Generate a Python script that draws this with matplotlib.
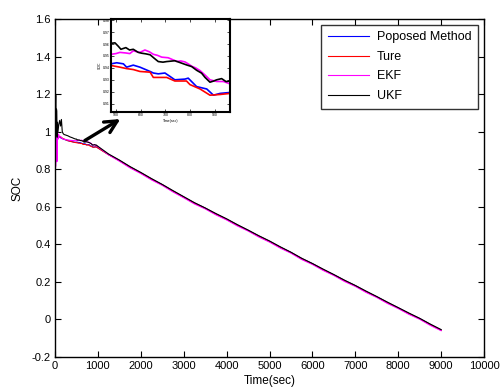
import matplotlib
matplotlib.use("Agg")
import matplotlib.pyplot as plt
import numpy as np

plt.rcParams['font.family'] = ['Liberation Sans', 'DejaVu Sans']

# ---- data ----
# early transient part (0..450 s)
t_early_ukf = [0, 15, 22, 28, 35, 42, 50, 58, 70, 90, 110, 130, 150, 170, 190, 210, 250, 300, 350, 400, 450]
soc_early_ukf = [1.0, 1.2, 1.19, 0.98, 1.12, 1.11, 0.97, 1.05, 1.0, 1.04, 1.06, 1.03, 1.065, 1.0, 0.99, 0.985, 0.982, 0.978, 0.972, 0.968, 0.963]
t_early_ekf = [0, 12, 20, 28, 36, 44, 52, 60, 70, 85, 100, 130, 160, 200, 250, 300, 350, 400, 450]
soc_early_ekf = [1.0, 0.81, 0.82, 1.03, 1.02, 0.84, 0.85, 1.0, 0.96, 0.985, 0.97, 0.975, 0.965, 0.96, 0.958, 0.956, 0.954, 0.953, 0.952]
t_early_pm = [0, 20, 35, 50, 70, 100, 150, 200, 300, 400, 450]
soc_early_pm = [1.0, 1.02, 0.97, 0.995, 0.975, 0.972, 0.965, 0.96, 0.952, 0.947, 0.944]
t_early_true = [0, 50, 100, 200, 300, 400, 450]
soc_early_true = [1.0, 0.985, 0.975, 0.962, 0.952, 0.946, 0.943]

# zoomed part (480..961 s)
t_mid_ukf = [480, 496, 510, 520, 540, 555, 570, 590, 604, 620, 638, 655, 671, 690, 705, 720, 738, 765, 785, 806, 826, 846, 860, 873, 880, 895, 907, 927, 945, 961]
soc_mid_ukf = [0.9606, 0.961, 0.958, 0.9556, 0.957, 0.955, 0.9556, 0.953, 0.9523, 0.9518, 0.951, 0.948, 0.9453, 0.9448, 0.9453, 0.9456, 0.946, 0.944, 0.9425, 0.9411, 0.938, 0.9356, 0.932, 0.9294, 0.928, 0.929, 0.930, 0.931, 0.9285, 0.929]
t_mid_ekf = [480, 500, 516, 540, 556, 570, 585, 597, 617, 635, 651, 668, 685, 711, 728, 745, 762, 779, 795, 806, 822, 840, 860, 880, 907, 934, 961]
soc_mid_ekf = [0.9514, 0.952, 0.953, 0.9525, 0.952, 0.9543, 0.9535, 0.953, 0.955, 0.9535, 0.9514, 0.9505, 0.949, 0.9485, 0.947, 0.9454, 0.9458, 0.945, 0.943, 0.9414, 0.940, 0.9377, 0.934, 0.930, 0.9286, 0.9286, 0.9266]
t_mid_pm = [480, 503, 530, 543, 570, 597, 638, 651, 671, 698, 718, 738, 779, 792, 826, 867, 894, 921, 961]
soc_mid_pm = [0.9434, 0.9443, 0.9434, 0.9406, 0.9423, 0.9406, 0.937, 0.9357, 0.935, 0.9357, 0.9329, 0.930, 0.9306, 0.9314, 0.9243, 0.9223, 0.9171, 0.9186, 0.9194]
t_mid_true = [480, 516, 543, 570, 597, 638, 651, 705, 738, 785, 799, 840, 880, 921, 961]
soc_mid_true = [0.942, 0.9406, 0.9394, 0.9386, 0.937, 0.9364, 0.932, 0.932, 0.929, 0.929, 0.926, 0.9223, 0.9171, 0.9177, 0.9186]

# long linear discharge part (1000..9000 s)
t_late = [1000, 1250, 1500, 1750, 2000, 2250, 2500, 2750, 3000, 3250, 3500, 3750, 4000, 4250, 4500, 4750,
          5000, 5250, 5500, 5750, 6000, 6250, 6500, 6750, 7000, 7250, 7500, 7750, 8000, 8250, 8500, 8750, 9000]
soc_late_true = [0.913, 0.877, 0.846, 0.811, 0.780, 0.747, 0.717, 0.683, 0.651, 0.619, 0.592, 0.561, 0.533, 0.502, 0.474, 0.443,
                 0.415, 0.384, 0.356, 0.323, 0.296, 0.265, 0.237, 0.206, 0.179, 0.148, 0.120, 0.089, 0.061, 0.031, 0.004, -0.028, -0.057]
soc_late_pm = [0.914, 0.878, 0.847, 0.812, 0.781, 0.748, 0.718, 0.684, 0.652, 0.620, 0.593, 0.562, 0.534, 0.503, 0.475, 0.444,
               0.416, 0.385, 0.357, 0.324, 0.297, 0.266, 0.238, 0.207, 0.180, 0.149, 0.121, 0.090, 0.062, 0.032, 0.005, -0.027, -0.056]
soc_late_ekf = [0.920, 0.877, 0.843, 0.807, 0.777, 0.743, 0.714, 0.679, 0.648, 0.615, 0.589, 0.557, 0.530, 0.498, 0.471, 0.439,
                0.412, 0.380, 0.353, 0.319, 0.293, 0.261, 0.234, 0.202, 0.176, 0.144, 0.117, 0.085, 0.058, 0.027, 0.001, -0.032, -0.060]
soc_late_ukf = [0.922, 0.881, 0.849, 0.814, 0.783, 0.750, 0.719, 0.686, 0.654, 0.622, 0.594, 0.564, 0.536, 0.505, 0.476, 0.446,
                0.418, 0.387, 0.358, 0.326, 0.298, 0.268, 0.239, 0.209, 0.181, 0.151, 0.122, 0.092, 0.063, 0.034, 0.006, -0.025, -0.054]

t_pm = t_early_pm + t_mid_pm + t_late
s_pm = soc_early_pm + soc_mid_pm + soc_late_pm
t_true = t_early_true + t_mid_true + t_late
s_true = soc_early_true + soc_mid_true + soc_late_true
t_ekf = t_early_ekf + t_mid_ekf + t_late
s_ekf = soc_early_ekf + soc_mid_ekf + soc_late_ekf
t_ukf = t_early_ukf + t_mid_ukf + t_late
s_ukf = soc_early_ukf + soc_mid_ukf + soc_late_ukf

labels = ['Poposed Method', 'Ture', 'EKF', 'UKF']
colors = ['#0000ff', '#ff0000', '#ff00ff', '#000000']

x_ticks = [0, 1000, 2000, 3000, 4000, 5000, 6000, 7000, 8000, 9000, 10000]
y_ticks = [-0.2, 0, 0.2, 0.4, 0.6, 0.8, 1, 1.2, 1.4, 1.6]
y_ticklabels = ['-0.2', '0', '0.2', '0.4', '0.6', '0.8', '1', '1.2', '1.4', '1.6']

inset_xticks = [500, 600, 700, 800, 900]
inset_yticks = [0.91, 0.92, 0.93, 0.94, 0.95, 0.96, 0.97, 0.98]

series = [(t_pm, s_pm), (t_true, s_true), (t_ekf, s_ekf), (t_ukf, s_ukf)]

fig = plt.figure(figsize=(5.03, 3.90), dpi=100)
ax = fig.add_axes([0.1093, 0.0846, 0.853, 0.8667])
for (tt, ss), c, lab in zip(series, colors, labels):
    ax.plot(tt, ss, color=c, lw=0.8, label=lab)

ax.set_xlim(0, 10000)
ax.set_ylim(-0.2, 1.6)
ax.set_xticks(x_ticks)
ax.set_xticklabels([str(v) for v in x_ticks])
ax.set_yticks(y_ticks)
ax.set_yticklabels(y_ticklabels)
ax.tick_params(direction='in', length=4, width=0.8, top=True, right=True, labelsize=8, pad=3)
for sp in ax.spines.values():
    sp.set_linewidth(1.0)
ax.set_xlabel('Time(sec)', fontsize=8.5, labelpad=3)
ax.set_ylabel('SOC', fontsize=8.5, labelpad=6)

leg = ax.legend(loc='upper right', fontsize=9, frameon=True, fancybox=False,
                edgecolor='black', handlelength=3.3, labelspacing=0.6,
                borderaxespad=0.45, borderpad=0.55, handletextpad=0.6)
leg.get_frame().set_linewidth(1.0)

ax.annotate('', xy=(1580, 1.075), xytext=(640, 0.945),
            arrowprops=dict(arrowstyle='->', lw=2.4, color='black', mutation_scale=22))

ins = fig.add_axes([0.2207, 0.7128, 0.2366, 0.2385])
for (tt, ss), c in zip(series, colors):
    ins.plot(tt, ss, color=c, lw=1.2)
ins.set_xlim(480, 961)
ins.set_ylim(0.903, 0.981)
ins.set_xticks(inset_xticks)
ins.set_yticks(inset_yticks)
ins.set_yticklabels(['%.2f' % v for v in inset_yticks])
ins.tick_params(direction='in', length=2, width=0.5, top=True, right=True, labelsize=2.5, pad=1)
for sp in ins.spines.values():
    sp.set_linewidth(1.5)
ins.set_xlabel('Time(sec)', fontsize=2.5, labelpad=1)
ins.set_ylabel('SOC', fontsize=2.5, labelpad=1)

fig.savefig('out.png', dpi=100)
